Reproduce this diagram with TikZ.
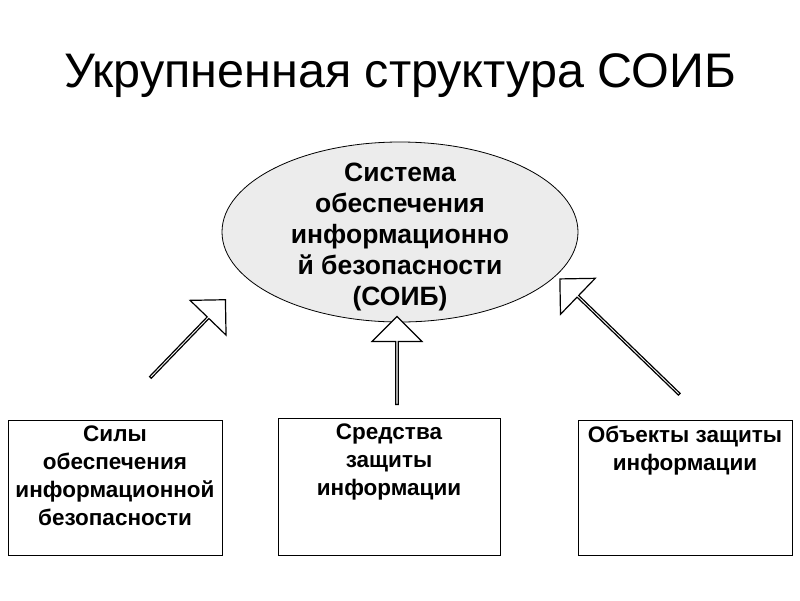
\documentclass[tikz,border=0pt]{standalone}
\usepackage{fontspec}
\setmainfont{Liberation Sans}
\usetikzlibrary{shapes.arrows}
\begin{document}
\begin{tikzpicture}[x=1pt,y=-1pt,
  box/.style={draw,line width=0.8pt,fill=white},
  txt/.style={font=\bfseries\fontsize{22.5}{28}\selectfont,align=center},
  blk/.style={single arrow,draw,line width=1.2pt,fill=white,minimum width=50pt,single arrow head extend=12pt,single arrow tip angle=90,inner sep=0pt}]
\useasboundingbox (0,0) rectangle (800,600);
\node (title) at (400,76) {\fontsize{48.5}{52}\selectfont Укрупненная структура СОИБ};
\draw[line width=0.8pt,fill=gray!15] (400,232) ellipse [x radius=178,y radius=90];
\node[txt,font=\bfseries\fontsize{26.5}{31}\selectfont] (sys) at (400,237) {Система\\обеспечения\\информационно\\й безопасности\\(СОИБ)};
\draw[box] (8,420) rectangle (222,555);
\draw[box] (278,418) rectangle (500,555);
\draw[box] (578,420) rectangle (792,555);
\node[txt,anchor=north] (b1) at (115,422) {Силы\\обеспечения\\информационной\\безопасности};
\node[txt,anchor=north] (b2) at (389,420) {Средства\\защиты\\информации};
\node[txt,anchor=north] (b3) at (685,422) {Объекты защиты\\информации};
\node[blk,minimum height=108pt,rotate=46] (a1) at (187.5,339) {};
\node[blk,minimum height=88pt,rotate=90] (a2) at (397,361) {};
\node[blk,minimum height=166pt,rotate=136] (a3) at (620,337) {};
\end{tikzpicture}
\end{document}
